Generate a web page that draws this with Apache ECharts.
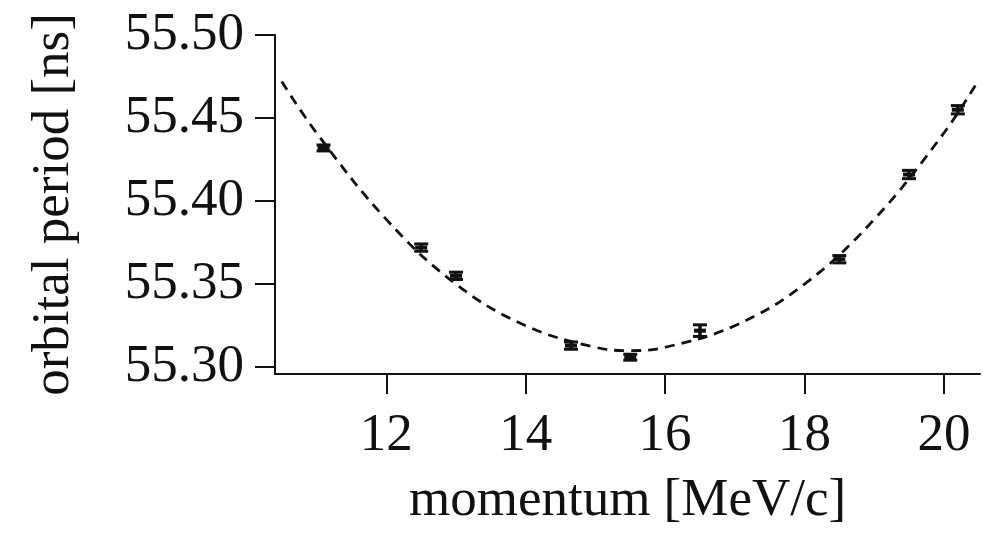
<!DOCTYPE html>
<html>
<head>
<meta charset="utf-8">
<script src="https://cdn.jsdelivr.net/npm/echarts@6/dist/echarts.min.js"></script>
<style>
  html, body { margin: 0; padding: 0; background: #fff; }
  #chart { width: 983px; height: 533px; }
</style>
</head>
<body>
<div id="chart"></div>
<script>
// Measured orbital period versus beam momentum, with error bars
const momentum = [11.1, 12.5, 13.0, 14.65, 15.5, 16.5, 18.5, 19.5, 20.2];
const period = [55.432, 55.372, 55.355, 55.313, 55.306, 55.322, 55.365, 55.416, 55.455];
const periodErr = [0.0018, 0.0022, 0.0022, 0.0022, 0.0018, 0.0035, 0.0022, 0.0025, 0.0025];

// Fitted curve through the measurements (dashed)
const fitMomentum = [10.5, 11, 12, 13, 14, 15, 15.5, 16, 17, 18, 19, 20, 20.5];
const fitPeriod = [55.472, 55.441, 55.389, 55.350, 55.325, 55.312, 55.310, 55.312, 55.325, 55.350, 55.389, 55.441, 55.473];

// Axis tick positions
const xTicks = [12, 14, 16, 18, 20];
const yTicks = [55.30, 55.35, 55.40, 55.45, 55.50];

const ink = '#111';
const serif = '"Liberation Serif", "Times New Roman", serif';

const points = momentum.map((m, i) => [m, period[i], periodErr[i]]);
const fit = fitMomentum.map((m, i) => [m, fitPeriod[i]]);

const chart = echarts.init(document.getElementById('chart'));
chart.setOption({
  animation: false,
  backgroundColor: '#fff',
  grid: { left: 275, right: 3, top: 35, bottom: 153, containLabel: false },
  xAxis: {
    type: 'value',
    min: 10.403,
    max: 20.518,
    name: 'momentum [MeV/c]',
    nameLocation: 'middle',
    nameGap: 101,
    nameTextStyle: { fontFamily: serif, fontSize: 53, color: ink },
    axisLine: { show: true, lineStyle: { color: ink, width: 2 } },
    axisTick: { show: true, customValues: xTicks, length: 20, lineStyle: { color: ink, width: 2 } },
    axisLabel: {
      customValues: xTicks,
      fontFamily: serif, fontSize: 53, color: ink, margin: 36,
      formatter: v => String(v)
    },
    splitLine: { show: false }
  },
  yAxis: {
    type: 'value',
    min: 55.2959,
    max: 55.50,
    name: 'orbital period [ns]',
    nameLocation: 'middle',
    nameGap: 194,
    nameTextStyle: { fontFamily: serif, fontSize: 53, color: ink },
    axisLine: { show: true, lineStyle: { color: ink, width: 2 } },
    axisTick: { show: true, customValues: yTicks, length: 20, lineStyle: { color: ink, width: 2 } },
    axisLabel: {
      customValues: yTicks,
      fontFamily: serif, fontSize: 53, color: ink, margin: 31,
      formatter: v => v.toFixed(2)
    },
    splitLine: { show: false }
  },
  series: [
    {
      type: 'line',
      data: fit,
      smooth: 0.4,
      showSymbol: false,
      silent: true,
      lineStyle: { color: ink, width: 2.8, type: [10, 7] },
      z: 2
    },
    {
      type: 'custom',
      data: points,
      z: 3,
      renderItem: (params, api) => {
        const x = api.value(0), y = api.value(1), e = api.value(2);
        const c = api.coord([x, y]);
        const top = api.coord([x, y + e]);
        const bot = api.coord([x, y - e]);
        const hw = 7;
        const st = { stroke: ink, lineWidth: 3 };
        return {
          type: 'group',
          children: [
            { type: 'line', shape: { x1: c[0], y1: top[1], x2: c[0], y2: bot[1] }, style: { stroke: ink, lineWidth: 3.5 } },
            { type: 'line', shape: { x1: c[0] - hw, y1: top[1], x2: c[0] + hw, y2: top[1] }, style: st },
            { type: 'line', shape: { x1: c[0] - hw, y1: bot[1], x2: c[0] + hw, y2: bot[1] }, style: st },
            { type: 'rect', shape: { x: c[0] - 6, y: c[1] - 2, width: 12, height: 4 }, style: { fill: ink } }
          ]
        };
      }
    }
  ]
});
</script>
</body>
</html>
